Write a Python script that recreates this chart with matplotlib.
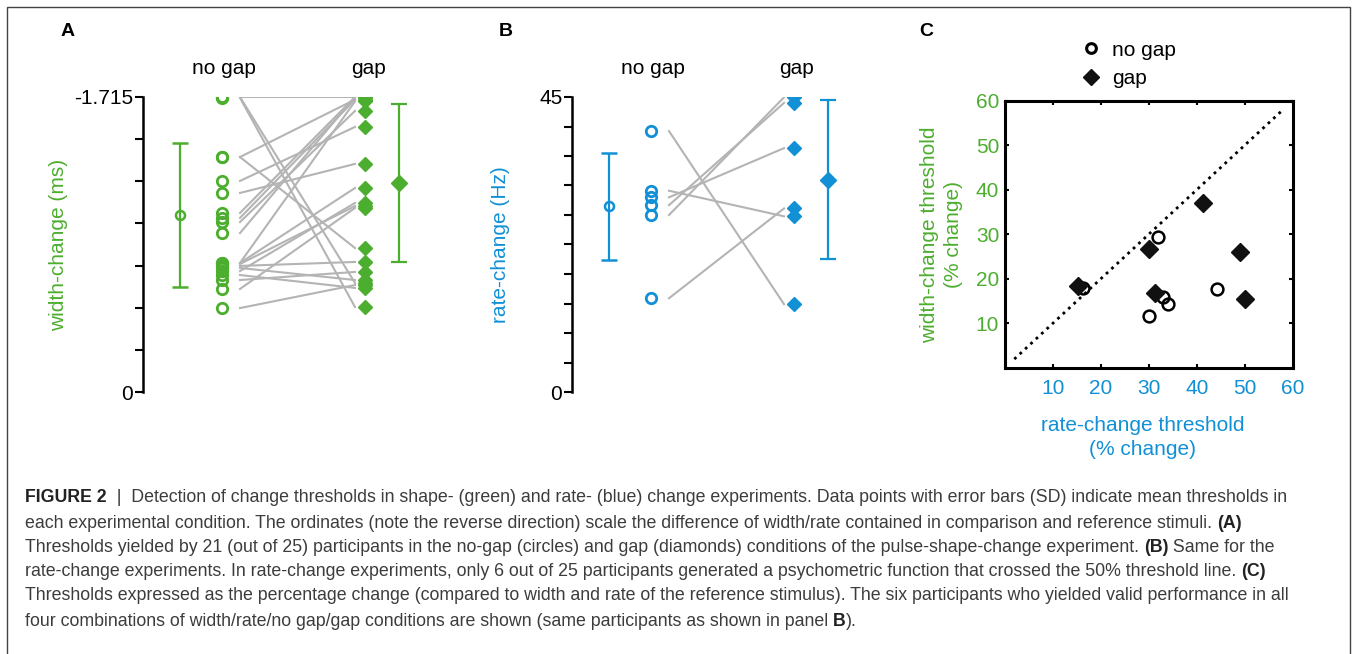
import matplotlib
matplotlib.use('Agg')
import numpy as np
import matplotlib.pyplot as plt
from matplotlib.lines import Line2D
from matplotlib.patches import Rectangle
from matplotlib import font_manager

green = '#4cae2e'
blue = '#1190d6'
grey = '#b4b4b4'

# panel A: width-change thresholds (ms), paired per participant (no gap -> gap)
width_nogap = [-1.715, -1.715, -1.71, -1.366, -1.366, -1.227, -1.157, -1.041, -1.012, -0.988, -0.924,
               -0.750, -0.750, -0.744, -0.733, -0.721, -0.703, -0.680, -0.651, -0.599, -0.488]
width_gap = [-1.715, -0.634, -0.494, -1.700, -0.837, -1.541, -1.326, -1.715, -1.700, -1.634, -1.715,
             -1.690, -1.186, -1.081, -0.756, -0.651, -1.099, -0.605, -0.698, -1.070, -0.622]
width_mean = [-1.029, -1.217]
width_sd = [0.42, 0.46]

# panel B: rate-change thresholds (Hz)
rate_nogap = [39.8, 30.7, 29.7, 28.5, 27.0, 14.3]
rate_gap = [13.4, 26.8, 37.2, 44.1, 44.95, 28.0]
rate_mean = [28.3, 32.4]
rate_sd = [8.2, 12.1]

# panel C: thresholds in % change
pct_rate_nogap = [16.3, 31.9, 33.0, 34.1, 30.1, 44.3]
pct_width_nogap = [17.9, 29.5, 15.9, 14.4, 11.7, 17.7]
pct_rate_gap = [15.2, 30.1, 31.3, 41.3, 49.0, 50.1]
pct_width_gap = [18.3, 26.6, 16.9, 37.0, 26.0, 15.4]

conditions = ['no gap', 'gap']

W, H = 1356, 654
plt.rcParams['font.family'] = ['Liberation Sans', 'DejaVu Sans']
fig = plt.figure(figsize=(W / 100, H / 100), dpi=100)


def box(l, t, r, b):
    return [l / W, 1 - b / H, (r - l) / W, (b - t) / H]


# x layout inside panels A/B (pixels from the axis spine)
X_MEAN0, X_PTS0, X_LINE0, X_LINE1, X_PTS1, X_MEAN1 = 37, 79, 97, 212, 222, 256


def paired_panel(ax, nogap, gap, mean, sd, color, ylim, ticks, ticklabels, ylabel, labx):
    for a, b in zip(nogap, gap):
        ax.plot([X_LINE0, X_LINE1], [a, b], color=grey, lw=1.5, zorder=1)
    ax.plot([X_PTS0] * len(nogap), nogap, 'o', mfc='none', mec=color, mew=2, ms=7.5, zorder=3)
    ax.plot([X_PTS1] * len(gap), gap, 'D', color=color, ms=7, zorder=3)
    ax.errorbar([X_MEAN0], [mean[0]], yerr=[sd[0]], fmt='o', mfc='none', mec=color, mew=1.8, ms=6.5,
                ecolor=color, elinewidth=1.6, capsize=5.5, capthick=1.6)
    ax.errorbar([X_MEAN1], [mean[1]], yerr=[sd[1]], fmt='D', color=color, ms=8,
                ecolor=color, elinewidth=1.6, capsize=5.5, capthick=1.6)
    ax.set_xlim(0, 280)
    ax.set_ylim(*ylim)
    ax.set_yticks(ticks)
    ax.set_yticklabels(ticklabels)
    ax.set_xticks([])
    for s in ['top', 'right', 'bottom']:
        ax.spines[s].set_visible(False)
    ax.spines['left'].set_linewidth(1.8)
    ax.tick_params(axis='y', direction='out', length=5.5, width=1.5, pad=1.5, labelsize=15)
    ax.set_ylabel(ylabel, color=color, fontsize=15)
    ax.yaxis.set_label_coords(labx, 0.5)
    tr = ax.get_xaxis_transform()
    ax.text(X_PTS0 + 2, 1.098, conditions[0], transform=tr, ha='center', va='center', fontsize=15)
    ax.text(X_PTS1 + 3, 1.098, conditions[1], transform=tr, ha='center', va='center', fontsize=15)
    ax.patch.set_visible(False)


axA = fig.add_axes(box(143, 97, 423, 392))
tA = np.linspace(0, -1.715, 8)
paired_panel(axA, width_nogap, width_gap, width_mean, width_sd, green, (0, -1.715), tA,
             ['0'] + [''] * 6 + ['-1.715'], 'width-change (ms)', -0.268)

axB = fig.add_axes(box(572, 97, 852, 392))
tB = np.linspace(0, 45, 11)
paired_panel(axB, rate_nogap, rate_gap, rate_mean, rate_sd, blue, (0, 45), tB,
             ['0'] + [''] * 9 + ['45'], 'rate-change (Hz)', -0.221)

# panel C
axC = fig.add_axes(box(1004.7, 100.7, 1292.7, 368))
axC.plot([2, 58], [2, 58], ls=':', color='k', lw=2)
axC.plot(pct_rate_nogap, pct_width_nogap, 'o', mfc='none', mec='k', mew=1.8, ms=8.5, zorder=3)
axC.plot(pct_rate_gap, pct_width_gap, 'D', color='#111111', ms=9, zorder=3)
axC.set_xlim(0, 60)
axC.set_ylim(0, 60)
axC.set_xticks(range(10, 61, 10))
axC.set_yticks(range(10, 61, 10))
for s in axC.spines.values():
    s.set_linewidth(2.2)
axC.tick_params(direction='in', length=3, width=1.5, top=True, right=True, labelsize=15)
axC.tick_params(axis='x', labelcolor=blue, pad=8)
axC.tick_params(axis='y', labelcolor=green, pad=4)
axC.set_ylabel('width-change threshold\n(% change)', color=green, fontsize=15, linespacing=1.3)
axC.yaxis.set_label_coords(-0.145, 0.5)
axC.set_xlabel('rate-change threshold\n(% change)', color=blue, fontsize=15, linespacing=1.35)
axC.xaxis.set_label_coords(0.48, -0.18)
handles = [Line2D([], [], ls='none', marker='o', mfc='none', mec='k', mew=2.2, ms=7),
           Line2D([], [], ls='none', marker='D', color='#111111', ms=8)]
axC.legend(handles, conditions, loc='upper left', bbox_to_anchor=(0.27, 1.225), frameon=False,
           fontsize=15, handlelength=0.8, handletextpad=0.6, labelspacing=0.45,
           borderpad=0, borderaxespad=0)

for letter, x in zip('ABC', [68, 506, 926]):
    fig.text(x / W, 1 - 32 / H, letter, fontsize=14, fontweight='bold', ha='center', va='center')

# outer frame
fig.add_artist(Rectangle((7 / W, -0.05), (1350 - 7) / W, 1.05 - 7 / H, fill=False,
                         edgecolor='#444444', lw=1, transform=fig.transFigure, clip_on=False))

# caption
names = {f.name for f in font_manager.fontManager.ttflist}
cap_font = 'Liberation Sans Narrow' if 'Liberation Sans Narrow' in names else 'Liberation Sans'
caption = [
    [("FIGURE 2", True), ("  |  Detection of change thresholds in shape- (green) and rate- (blue) change experiments. "
                          "Data points with error bars (SD) indicate mean thresholds in", False)],
    [("each experimental condition. The ordinates (note the reverse direction) scale the difference of width/rate "
      "contained in comparison and reference stimuli. ", False), ("(A)", True)],
    [("Thresholds yielded by 21 (out of 25) participants in the no-gap (circles) and gap (diamonds) conditions of "
      "the pulse-shape-change experiment. ", False), ("(B)", True), (" Same for the", False)],
    [("rate-change experiments. In rate-change experiments, only 6 out of 25 participants generated a psychometric "
      "function that crossed the 50% threshold line. ", False), ("(C)", True)],
    [("Thresholds expressed as the percentage change (compared to width and rate of the reference stimulus). "
      "The six participants who yielded valid performance in all", False)],
    [("four combinations of width/rate/no gap/gap conditions are shown (same participants as shown in panel ", False),
     ("B", True), (").", False)],
]
cap_y = [498, 523, 547, 572, 596, 621]
renderer = fig.canvas.get_renderer()


def text_width(s, bold, size):
    t = fig.text(0, 0, '|' + s + '|', family=cap_font, fontsize=size, fontweight='bold' if bold else 'normal')
    t2 = fig.text(0, 0, '||', family=cap_font, fontsize=size, fontweight='bold' if bold else 'normal')
    w = t.get_window_extent(renderer).width - t2.get_window_extent(renderer).width
    t.remove()
    t2.remove()
    return w


base = 11.0
w1 = sum(text_width(s, b, base) for s, b in caption[0])
size = base * (1288 - 25) / w1

for pieces, y in zip(caption, cap_y):
    x = 25.0
    for s, b in pieces:
        fig.text(x / W, 1 - y / H, s, family=cap_font, fontsize=size,
                 fontweight='bold' if b else 'normal', color='#222222' if b else '#3c3c3c',
                 ha='left', va='center')
        x += text_width(s, b, size)

fig.savefig('out.png', dpi=100)
